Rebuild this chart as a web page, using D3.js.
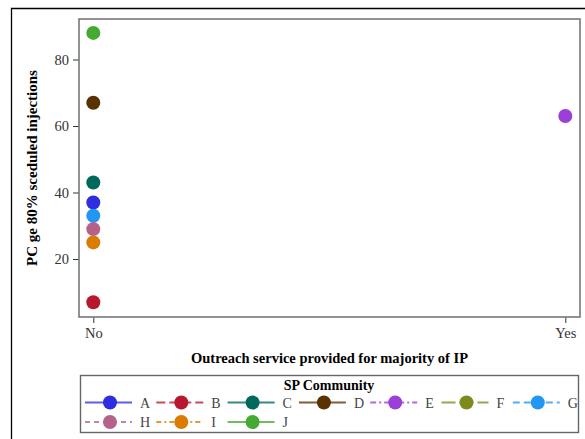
<!DOCTYPE html>
<html><head><meta charset="utf-8">
<script src="https://cdn.jsdelivr.net/npm/d3@7"></script>
<style>body{margin:0;background:#fff}svg{display:block}</style>
</head><body>
<script>
// Data
const communities = ["A","B","C","D","E","F","G","H","I","J"];
const outreach    = ["No","No","No","No","Yes",null,"No","No","No","No"];
const pcValues    = [37,7,43,67,63,null,33,29,25,88];
const xCategories = ["No","Yes"];
const yTicks      = [20,40,60,80];
const colors      = ["#2e2ee0","#b8182e","#00695c","#5a3200","#9b3fd8","#7e8a1c","#2196f3","#b5628a","#d97c00","#46aa32"];
const dashes      = [null,"9,4",null,null,"6,3,2,3","14,4",  "7,4","5,4","5,3,2,3",null];

const W=585,H=439;
const svg=d3.select("body").append("svg").attr("width",W).attr("height",H);
const font="'Liberation Serif','Times New Roman',serif";

// outer frame
svg.append("path").attr("d","M11.5,"+H+" V8.5 H"+W).attr("fill","none").attr("stroke","#000").attr("stroke-width",1.3);

const L=79,R=580,T=19,B=317;
const x=d3.scalePoint().domain(xCategories).range([93.3,565.3]);
const y=d3.scaleLinear().domain([2.56,92.18]).range([B,T]);

// axes
const gy=svg.append("g").attr("transform",`translate(${L},0)`)
  .call(d3.axisLeft(y).tickValues(yTicks).tickSize(6).tickPadding(4));
const gx=svg.append("g").attr("transform",`translate(0,${B})`)
  .call(d3.axisBottom(x).tickSize(6).tickPadding(5));
[gy,gx].forEach(g=>{
  g.select(".domain").remove();
  g.selectAll(".tick line").attr("stroke","#333");
  g.selectAll(".tick text").attr("fill","#333").style("font-family",font).style("font-size","14.5px");
});

// plot frame
svg.append("rect").attr("x",L).attr("y",T).attr("width",R-L).attr("height",B-T)
  .attr("fill","none").attr("stroke","#777").attr("stroke-width",1.6);

// points
const pts=communities.map((c,i)=>({c,cat:outreach[i],v:pcValues[i],col:colors[i]})).filter(d=>d.v!=null);
svg.append("g").selectAll("circle").data(pts).join("circle")
  .attr("cx",d=>x(d.cat)).attr("cy",d=>y(d.v)).attr("r",7).attr("fill",d=>d.col);

// axis titles
svg.append("text").attr("x",(L+R)/2).attr("y",363).attr("text-anchor","middle")
  .style("font-family",font).style("font-weight","bold").style("font-size","14.5px")
  .text("Outreach service provided for majority of IP");
svg.append("text").attr("transform",`translate(37,168) rotate(-90)`).attr("text-anchor","middle")
  .style("font-family",font).style("font-weight","bold").style("font-size","15px")
  .text("PC ge 80% sceduled injections");

// legend
svg.append("rect").attr("x",80.5).attr("y",375.5).attr("width",498).attr("height",57)
  .attr("fill","none").attr("stroke","#666").attr("stroke-width",1.4);
svg.append("text").attr("x",(80+578)/2).attr("y",390).attr("text-anchor","middle")
  .style("font-family",font).style("font-weight","bold").style("font-size","14px").text("SP Community");
const lg=svg.append("g").selectAll("g").data(communities).join("g")
  .attr("transform",(d,i)=>`translate(${110+(i%7)*71.3},${i<7?402.5:422})`);
lg.append("line").attr("x1",-25).attr("x2",22).attr("stroke",(d,i)=>d3.interpolateRgb(colors[i],"#fff")(0.22))
  .attr("stroke-width",2).attr("stroke-dasharray",(d,i)=>dashes[i]);
lg.append("circle").attr("r",7).attr("fill",(d,i)=>colors[i]);
lg.append("text").attr("x",30).attr("y",5).attr("fill","#444")
  .style("font-family",font).style("font-size","14px").text(d=>d);
</script>
</body></html>
